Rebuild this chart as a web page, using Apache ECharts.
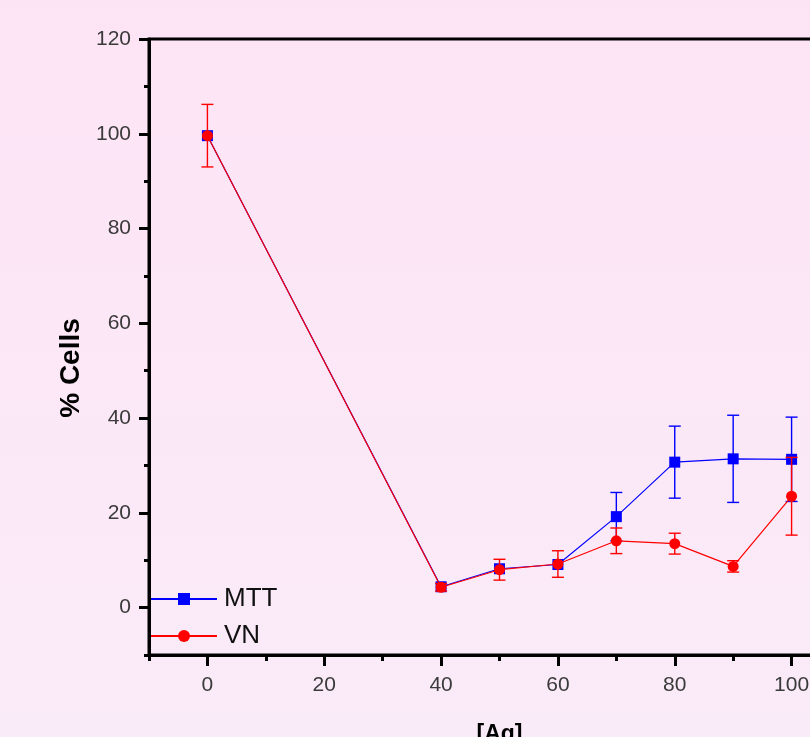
<!DOCTYPE html>
<html>
<head>
<meta charset="utf-8">
<script src="https://cdn.jsdelivr.net/npm/echarts@6/dist/echarts.min.js"></script>
<style>
html,body{margin:0;padding:0;background:#fce8f6;}
#chart{width:810px;height:737px;}
</style>
</head>
<body>
<div id="chart"></div>
<script>
// Data
const concentrations = [0, 40, 50, 60, 70, 80, 90, 100];
const mttValues = [99.6, 4.4, 8.2, 9.1, 19.2, 30.7, 31.4, 31.3];
const mttErrors = [0, 0, 0, 0, 5.1, 7.6, 9.2, 8.9];
const vnValues = [99.6, 4.3, 8.0, 9.2, 14.1, 13.5, 8.7, 23.5];
const vnErrors = [6.6, 0.8, 2.2, 2.8, 2.7, 2.2, 1.2, 8.2];
const xMajorTicks = [0, 20, 40, 60, 80, 100];
const yMajorTicks = [0, 20, 40, 60, 80, 100, 120];
const seriesNames = ['MTT', 'VN'];
const xTitle = '[Ag]';
const yTitle = '% Cells';

const chart = echarts.init(document.getElementById('chart'));
const FONT = '"Liberation Sans", Arial, sans-serif';
const tickFont = { fontFamily: FONT, fontSize: 21, color: '#3a3a3a' };

function errData(vals, errs) {
  return concentrations.map((c, i) => [c, vals[i] - errs[i], vals[i] + errs[i], errs[i]]);
}
function errRender(color) {
  return function (params, api) {
    if (api.value(3) <= 0) return null;
    const x = api.value(0);
    const lo = api.coord([x, api.value(1)]);
    const hi = api.coord([x, api.value(2)]);
    const w = 6;
    const style = { stroke: color, lineWidth: 1.4 };
    return {
      type: 'group',
      children: [
        { type: 'line', shape: { x1: lo[0], y1: lo[1], x2: hi[0], y2: hi[1] }, style },
        { type: 'line', shape: { x1: lo[0] - w, y1: lo[1], x2: lo[0] + w, y2: lo[1] }, style },
        { type: 'line', shape: { x1: hi[0] - w, y1: hi[1], x2: hi[0] + w, y2: hi[1] }, style }
      ]
    };
  };
}

const axisLineStyle = { color: '#000', width: 3 };
function tickAxis(kind, pos, ticks, len) {
  const range = kind === 'x' ? { min: -10, max: 110 } : { min: -10, max: 120 };
  return Object.assign({
    type: 'value', interval: 10, position: pos,
    axisLine: { show: false, onZero: false },
    axisTick: { show: true, length: len, lineStyle: { color: '#000', width: 3 }, customValues: ticks },
    axisLabel: { show: false },
    splitLine: { show: false }
  }, range);
}

chart.setOption({
  backgroundColor: {
    type: 'linear', x: 0, y: 0, x2: 0, y2: 1,
    colorStops: [{ offset: 0, color: '#fde4f5' }, { offset: 1, color: '#faebf8' }]
  },
  animation: false,
  grid: {
    left: 149, right: -40, top: 39, bottom: 82,
    outerBoundsMode: 'none', containLabel: false,
    show: true, borderColor: '#000', borderWidth: 3, backgroundColor: 'transparent'
  },
  legend: {
    left: 150, top: 586, orient: 'vertical', padding: 0,
    itemWidth: 66, itemHeight: 15, itemGap: 11,
    textStyle: { fontFamily: FONT, fontSize: 26, color: '#111', padding: [0, 0, 0, 2] },
    data: seriesNames
  },
  xAxis: [{
    type: 'value', min: -10, max: 110, interval: 10,
    name: xTitle, nameLocation: 'middle', nameGap: 68,
    nameTextStyle: { fontFamily: FONT, fontSize: 23, fontWeight: 'bold', color: '#000' },
    axisLine: { show: true, onZero: false, lineStyle: axisLineStyle },
    axisTick: { show: true, length: 6, lineStyle: { color: '#000', width: 3 } },
    axisLabel: Object.assign({ margin: 20, customValues: xMajorTicks }, tickFont),
    splitLine: { show: false }
  }, tickAxis('x', 'bottom', xMajorTicks, 11)],
  yAxis: [{
    type: 'value', min: -10, max: 120, interval: 10,
    name: yTitle, nameLocation: 'middle', nameGap: 64, nameRotate: 90,
    nameTextStyle: { fontFamily: FONT, fontSize: 28, fontWeight: 'bold', color: '#000', padding: [0, 42, 0, 0] },
    axisLine: { show: true, onZero: false, lineStyle: axisLineStyle },
    axisTick: { show: true, length: 5, lineStyle: { color: '#000', width: 3 } },
    axisLabel: Object.assign({ margin: 18, customValues: yMajorTicks }, tickFont),
    splitLine: { show: false }
  }, tickAxis('y', 'left', yMajorTicks, 10)],
  series: [
    {
      type: 'custom', name: 'MTT-err', xAxisIndex: 0, yAxisIndex: 0,
      renderItem: errRender('#0000ff'),
      data: errData(mttValues, mttErrors), encode: { x: 0, y: [1, 2] }, silent: true, z: 2
    },
    {
      type: 'line', name: seriesNames[0],
      data: concentrations.map((c, i) => [c, mttValues[i]]),
      symbol: 'rect', symbolSize: 11,
      itemStyle: { color: '#0000ff' },
      lineStyle: { color: '#0000ff', width: 1.2 }, z: 3
    },
    {
      type: 'custom', name: 'VN-err', xAxisIndex: 0, yAxisIndex: 0,
      renderItem: errRender('#ff0000'),
      data: errData(vnValues, vnErrors), encode: { x: 0, y: [1, 2] }, silent: true, z: 4
    },
    {
      type: 'line', name: seriesNames[1],
      data: concentrations.map((c, i) => [c, vnValues[i]]),
      symbol: 'circle', symbolSize: 11,
      itemStyle: { color: '#ff0000' },
      lineStyle: { color: '#ff0000', width: 1.2 }, z: 5
    }
  ]
});
</script>
</body>
</html>
